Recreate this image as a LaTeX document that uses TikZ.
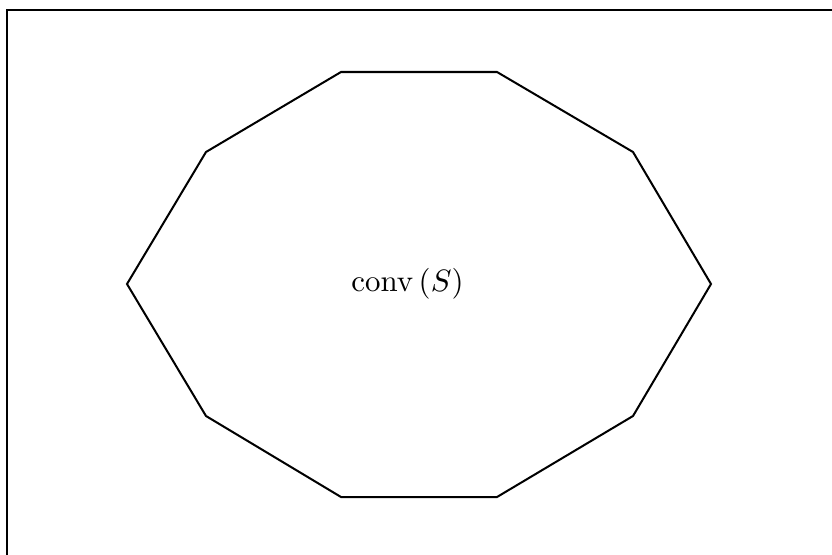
\documentclass[tikz,border=0pt]{standalone}
\begin{document}
\begin{tikzpicture}[x=0.3236pt,y=-0.3236pt,
  frame/.style={line width=0.45pt},
  hull/.style={line width=0.65pt, line join=miter}]
\useasboundingbox (0,0) rectangle (832,554);
\coordinate (fb) at (7,560);
\coordinate (ftl) at (7,10);
\coordinate (ftr) at (840,10);
\draw[frame] (fb) -- (ftl) -- (ftr);
\coordinate (v1) at (341,72);
\coordinate (v2) at (497,72);
\coordinate (v3) at (633,152);
\coordinate (v4) at (711,284);
\coordinate (v5) at (633,416);
\coordinate (v6) at (497,497);
\coordinate (v7) at (341,497);
\coordinate (v8) at (206,416);
\coordinate (v9) at (127,284);
\coordinate (v10) at (206,152);
\draw[hull] (v1) -- (v2) -- (v3) -- (v4) -- (v5) -- (v6) -- (v7) -- (v8) -- (v9) -- (v10) -- cycle;
\node (lbl) at (407.5,284) {$\mathrm{conv}\left(S\right)$};
\end{tikzpicture}
\end{document}
